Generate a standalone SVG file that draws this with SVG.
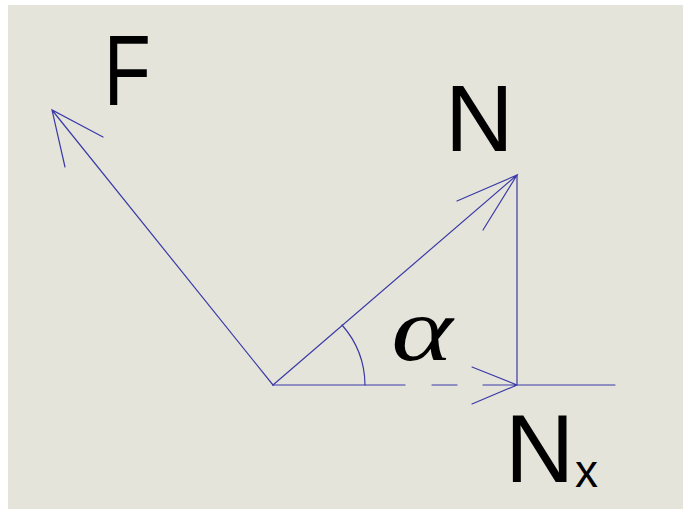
<svg xmlns="http://www.w3.org/2000/svg" width="683" height="509" viewBox="0 0 683 509">
<style>
.v{stroke:#3a3aa8;stroke-width:1.2;fill:none;stroke-linecap:round}
.t{font-family:"Liberation Sans",Arial,sans-serif;fill:#000}
</style>
<rect width="683" height="509" fill="#ffffff"/>
<rect x="8" y="5" width="675" height="504" fill="#e5e4da"/>
<g id="connectors">
<path class="v" d="M273 385 L52 110 M103 137 L52 110 L65 167"/>
<path class="v" d="M273 385 L517 175 M457 201 L517 175 L483 230"/>
<path class="v" d="M517 175 L517 385"/>
<path class="v" d="M273 385 L405 385 M432 385 L457 385 M483 385 L615 385 M472 367 L517 385 L472 404"/>
<path class="v" d="M365 385 A92 92 0 0 0 342 325"/>
</g>
<g id="F"><text class="t" font-size="100" transform="translate(110,105) scale(0.77,1)" x="-8.2" y="0">F</text></g>
<g id="N"><text class="t" font-size="95" x="445" y="151">N</text></g>
<g id="Nx"><text class="t" font-size="96" x="505" y="482">N</text><text class="t" font-size="46" x="575" y="487">x</text></g>
<g id="alpha"><text font-family="'Liberation Serif',serif" font-style="italic" font-size="90" transform="translate(422,360) scale(1.3,1)" x="0" y="0" text-anchor="middle">α</text></g>
</svg>
